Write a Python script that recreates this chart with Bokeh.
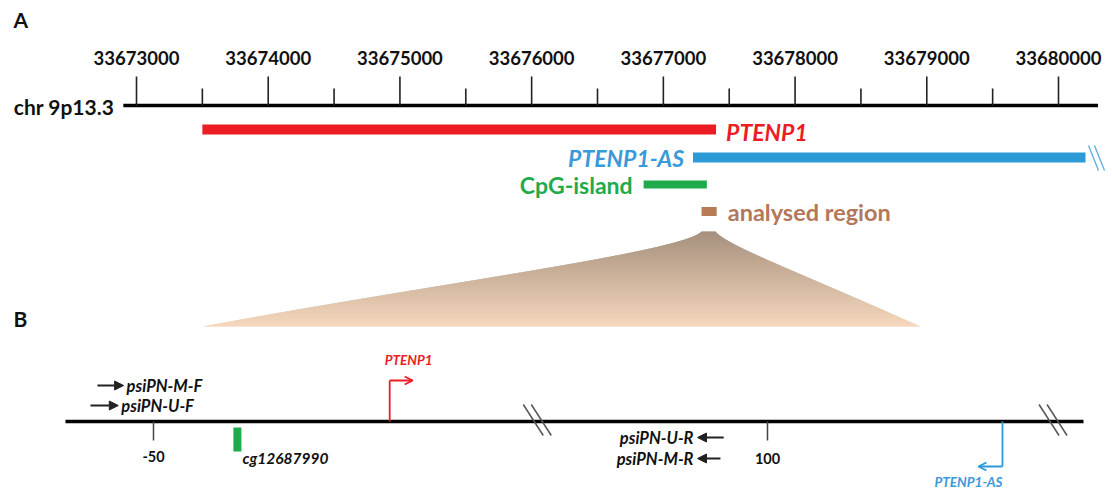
import numpy as np
from bokeh.plotting import figure
from bokeh.models import Range1d, ColumnDataSource, Arrow, NormalHead, OpenHead
from bokeh.core.properties import value
from bokeh.embed import file_html
from bokeh.resources import INLINE

W, H = 1112, 492
FONT = value("Lato")

# ---------------- Panel A data (genomic coordinates, chr 9p13.3) ----------------
major_ticks = [33673000, 33674000, 33675000, 33676000, 33677000, 33678000, 33679000, 33680000]
major_labels = ["33673000", "33674000", "33675000", "33676000", "33677000", "33678000", "33679000", "33680000"]
minor_ticks = [33673500, 33674500, 33675500, 33676500, 33677500, 33678500, 33679500]
chrom_span = [33672900, 33680300]
feature_names = ["PTENP1", "PTENP1-AS", "CpG-island", "analysed region"]
feature_start = [33673500, 33677225, 33676850, 33677290]
feature_end = [33677400, 33680205, 33677330, 33677405]

# ---------------- Panel B data (positions in bp relative to region) ----------------
region_span = [-71.5, 177.2]
region_ticks = [-50, 100]
region_tick_labels = ["-50", "100"]
break_pos = [44.0, 170.0]
cpg_site = -29.5
cpg_site_name = "cg12687990"
tss_ptenp1 = 7.7
tss_ptenp1_as = 157.4
fwd_primers = ["psiPN-M-F", "psiPN-U-F"]
fwd_start = [-63.7, -65.4]
fwd_end = [-57.3, -58.6]
rev_primers = ["psiPN-U-R", "psiPN-M-R"]
rev_start = [89.3, 88.5]
rev_end = [82.9, 82.9]

RED = "#ec1c24"
BLUE = "#2d9ad8"
GREEN = "#1faa4b"
BROWN = "#b97b55"

p = figure(width=W, height=H, output_backend="svg", toolbar_location=None,
           x_range=Range1d(0, W), y_range=Range1d(H, 0),
           x_axis_location=None, y_axis_location=None, min_border=0,
           outline_line_color=None, background_fill_color="white")
p.grid.visible = False

# genome and region scales
kA = (1058 - 136) / 7000.0
g0 = 33673000 - 136 / kA
p.extra_x_ranges["genome"] = Range1d(g0, g0 + W / kA)
kB = (767 - 153) / 150.0
r0 = -50 - 153 / kB
p.extra_x_ranges["region"] = Range1d(r0, r0 + W / kB)

# ---------------- Panel A ----------------
p.text(x=[13], y=[19], text=["A"], text_font=FONT, text_font_style="bold",
       text_font_size="21px", text_baseline="middle", text_color="#111")
p.text(x=[13], y=[318], text=["B"], text_font=FONT, text_font_style="bold",
       text_font_size="21px", text_baseline="middle", text_color="#111")

p.segment(x0=[chrom_span[0]], x1=[chrom_span[1]], y0=[105], y1=[105],
          line_color="black", line_width=3.5, x_range_name="genome")
p.segment(x0=major_ticks, x1=major_ticks, y0=[105] * 8, y1=[76] * 8,
          line_color="#222", line_width=1.6, x_range_name="genome")
p.segment(x0=minor_ticks, x1=minor_ticks, y0=[105] * 7, y1=[88] * 7,
          line_color="#222", line_width=1.6, x_range_name="genome")
p.text(x=major_ticks, y=[57] * 8, text=major_labels, text_font=FONT,
       text_font_style="bold", text_font_size="18.5px", text_align="center",
       text_baseline="middle", text_color="#111", x_range_name="genome")
p.text(x=[chrom_span[0]], y=[106], text=["chr 9p13.3"], text_font=FONT,
       text_font_style="bold", text_font_size="21px", text_align="right",
       text_baseline="middle", text_color="#111", x_range_name="genome",
       x_offset=-9)

# feature bars
bar_y = [129, 157, 184, 211]
bar_h = [10, 10, 8, 9]
bar_col = [RED, BLUE, GREEN, BROWN]
p.quad(left=feature_start, right=feature_end,
       top=[y - h / 2 for y, h in zip(bar_y, bar_h)],
       bottom=[y + h / 2 for y, h in zip(bar_y, bar_h)],
       fill_color=bar_col, line_color=None, x_range_name="genome")

# break marks at end of PTENP1-AS
be = feature_end[1]
brk = ColumnDataSource(dict(x0=[be + 3 / kA, be + 9 / kA], x1=[be + 13 / kA, be + 19 / kA]))
p.segment(x0="x0", x1="x1", y0=145, y1=170, source=brk,
          line_color="#5aaee0", line_width=1.3, x_range_name="genome")

# feature labels
p.text(x=[feature_end[0]], y=[131], text=[feature_names[0]], text_font=FONT,
       text_font_style="bold italic", text_font_size="23px", text_color=RED,
       text_baseline="middle", x_offset=10, x_range_name="genome")
p.text(x=[feature_start[1]], y=[157], text=[feature_names[1]], text_font=FONT,
       text_font_style="bold italic", text_font_size="23px", text_color="#3a9ad9",
       text_baseline="middle", text_align="right", x_offset=-9, x_range_name="genome")
p.text(x=[feature_start[2]], y=[184], text=[feature_names[2]], text_font=FONT,
       text_font_style="bold", text_font_size="23px", text_color=GREEN,
       text_baseline="middle", text_align="right", x_offset=-11, x_range_name="genome")
p.text(x=[feature_end[3]], y=[211], text=[feature_names[3]], text_font=FONT,
       text_font_style="bold", text_font_size="23.5px", text_color="#b3785a",
       text_baseline="middle", x_offset=11, x_range_name="genome")

# zoom connector with vertical gradient (smooth concave edges)
def bez(p0, p1, p2, p3, n=200):
    tt = np.linspace(0, 1, n)[:, None]
    pts = ((1 - tt) ** 3) * np.array(p0) + 3 * ((1 - tt) ** 2) * tt * np.array(p1) \
        + 3 * (1 - tt) * tt ** 2 * np.array(p2) + tt ** 3 * np.array(p3)
    return pts[:, 0], pts[:, 1]

lbx, lby = bez((701, 231), (680, 252), (420, 285), (202, 326))
rbx, rby = bez((715, 231), (728, 246), (800, 272), (920, 326))
ys = np.arange(231.25, 326.25, 0.5)
xl = np.interp(ys, lby, lbx)
xr = np.interp(ys, rby, rbx)
t = (ys - ys.min()) / (ys.max() - ys.min())
c0 = np.array([136, 108, 84])
c1 = np.array([242, 202, 166])
cols = ["#%02x%02x%02x" % tuple(int(round(v)) for v in (c0 + (c1 - c0) * tt)) for tt in t]
p.hbar(y=ys, left=xl, right=xr, height=0.56, fill_color=cols, line_color=None)

# ---------------- Panel B ----------------
p.segment(x0=[region_span[0]], x1=[region_span[1]], y0=[421], y1=[421],
          line_color="black", line_width=3.5, x_range_name="region")
bsrc = ColumnDataSource(dict(
    x0=[b - 15 / kB for b in break_pos] + [b - 7 / kB for b in break_pos],
    x1=[b + 5 / kB for b in break_pos] + [b + 13 / kB for b in break_pos]))
p.segment(x0="x0", x1="x1", y0=404, y1=435, source=bsrc,
          line_color="#555", line_width=1.5, x_range_name="region")
p.segment(x0=region_ticks, x1=region_ticks, y0=[421, 421], y1=[440, 440],
          line_color="#444", line_width=1.5, x_range_name="region")
p.text(x=region_ticks, y=[456, 458], text=region_tick_labels, text_font=FONT,
       text_font_style="bold", text_font_size="14.5px", text_align="center",
       text_baseline="middle", text_color="#111", x_range_name="region")

# CpG site
p.quad(left=[cpg_site - 4 / kB], right=[cpg_site + 4 / kB], top=[427], bottom=[451],
       fill_color=GREEN, line_color=None, x_range_name="region")
p.text(x=[cpg_site], y=[457], text=[cpg_site_name], text_font=FONT,
       text_font_style="bold italic", text_font_size="15.5px", text_baseline="middle",
       text_color="#111", x_offset=5, x_range_name="region")

# primers
for name, s, e, y in zip(fwd_primers, fwd_start, fwd_end, [385, 405]):
    p.add_layout(Arrow(x_start=s, x_end=e, y_start=y, y_end=y, line_width=2,
                       line_color="#222",
                       end=NormalHead(size=9, fill_color="#222", line_color="#222"),
                       x_range_name="region"))
    p.text(x=[e], y=[y], text=[name], text_font=FONT, text_font_style="bold italic",
           text_font_size="16.5px", text_baseline="middle", text_color="#111",
           x_offset=3, x_range_name="region")
for name, s, e, y in zip(rev_primers, rev_start, rev_end, [437, 458]):
    p.add_layout(Arrow(x_start=s, x_end=e, y_start=y, y_end=y, line_width=2,
                       line_color="#222",
                       end=NormalHead(size=9, fill_color="#222", line_color="#222"),
                       x_range_name="region"))
    p.text(x=[e], y=[y], text=[name], text_font=FONT, text_font_style="bold italic",
           text_font_size="16.5px", text_baseline="middle", text_align="right",
           text_color="#111", x_offset=-4, x_range_name="region")

# TSS arrows
p.segment(x0=[tss_ptenp1], x1=[tss_ptenp1], y0=[421], y1=[380],
          line_color=RED, line_width=1.8, x_range_name="region")
p.add_layout(Arrow(x_start=tss_ptenp1, x_end=tss_ptenp1 + 23 / kB, y_start=380, y_end=380,
                   line_color=RED, line_width=1.8,
                   end=OpenHead(size=8, line_color=RED, line_width=1.8),
                   x_range_name="region"))
p.text(x=[tss_ptenp1], y=[359], text=["PTENP1"], text_font=FONT,
       text_font_style="bold italic", text_font_size="13.5px", text_baseline="middle",
       text_color=RED, x_offset=-5, x_range_name="region")

p.segment(x0=[tss_ptenp1_as], x1=[tss_ptenp1_as], y0=[421], y1=[466],
          line_color=BLUE, line_width=1.8, x_range_name="region")
p.add_layout(Arrow(x_start=tss_ptenp1_as, x_end=tss_ptenp1_as - 24 / kB, y_start=466, y_end=466,
                   line_color=BLUE, line_width=1.8,
                   end=OpenHead(size=8, line_color=BLUE, line_width=1.8),
                   x_range_name="region"))
p.text(x=[tss_ptenp1_as], y=[481], text=["PTENP1-AS"], text_font=FONT,
       text_font_style="bold italic", text_font_size="13.5px", text_baseline="middle",
       text_align="center", text_color="#3a9ad9", x_offset=-34, x_range_name="region")

open("out.html", "w").write(file_html(p, INLINE))
